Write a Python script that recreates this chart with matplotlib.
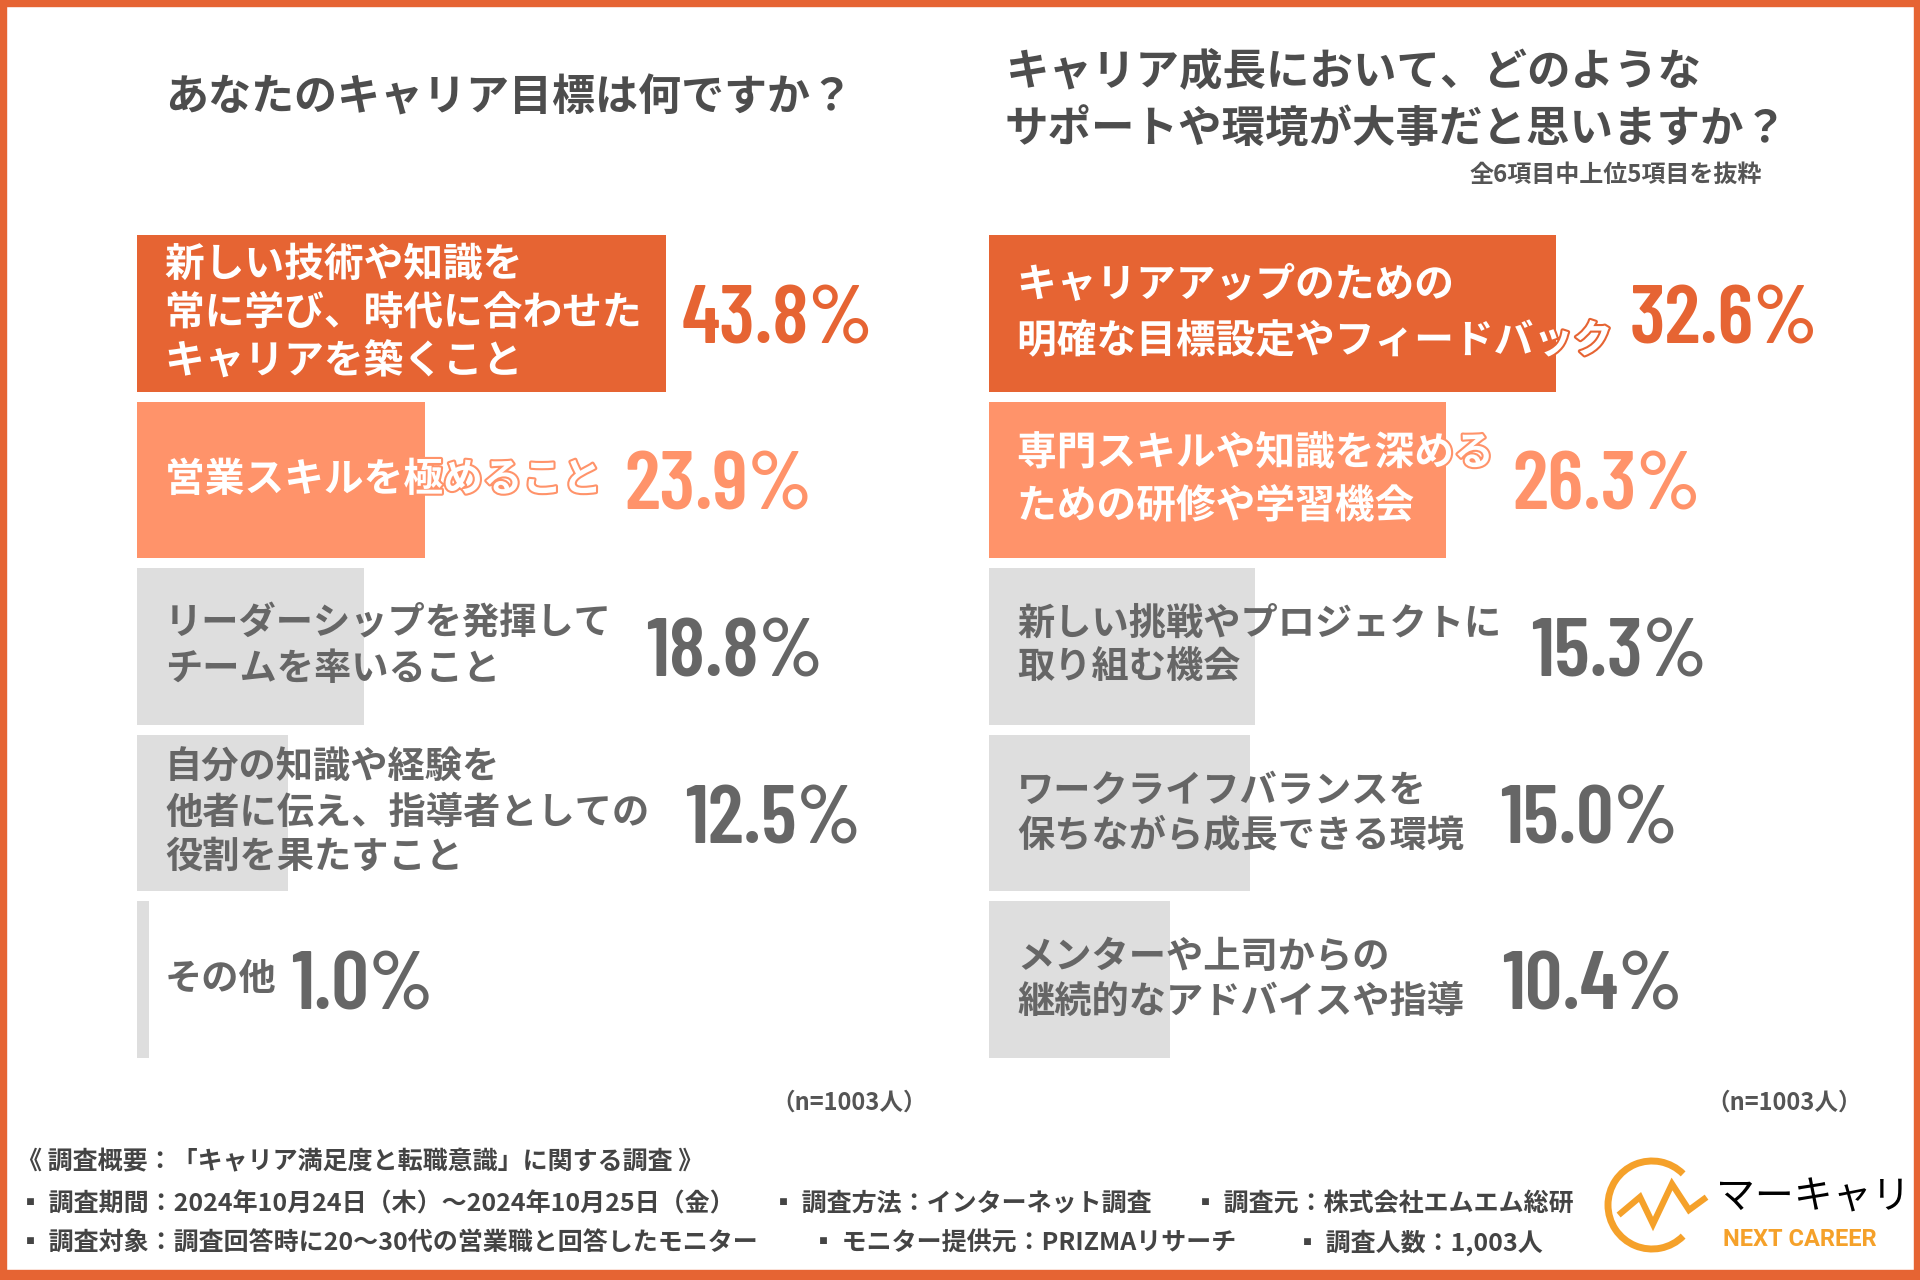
"""キャリア目標 / キャリア成長に必要なサポート: 横棒グラフ 2 枚 + 調査概要フッター."""

import matplotlib
matplotlib.use("Agg")
import matplotlib.pyplot as plt
import matplotlib.patheffects as pe
from matplotlib import font_manager as fm
from matplotlib.patches import Arc, Rectangle

# ---- data -------------------------------------------------------------
left_title = "あなたのキャリア目標は何ですか？"
left_labels = [
    "新しい技術や知識を\n常に学び、時代に合わせた\nキャリアを築くこと",
    "営業スキルを極めること",
    "リーダーシップを発揮して\nチームを率いること",
    "自分の知識や経験を\n他者に伝え、指導者としての\n役割を果たすこと",
    "その他",
]
left_values = [43.8, 23.9, 18.8, 12.5, 1.0]

right_title = ["キャリア成長において、どのような", "サポートや環境が大事だと思いますか？"]
right_note = "全6項目中上位5項目を抜粋"
right_labels = [
    "キャリアアップのための\n明確な目標設定やフィードバック",
    "専門スキルや知識を深める\nための研修や学習機会",
    "新しい挑戦やプロジェクトに\n取り組む機会",
    "ワークライフバランスを\n保ちながら成長できる環境",
    "メンターや上司からの\n継続的なアドバイスや指導",
]
right_values = [32.6, 26.3, 15.3, 15.0, 10.4]

n_note = "（n=1003人）"
footer_head = "《 調査概要：「キャリア満足度と転職意識」に関する調査 》"
footer_row1 = ["▪ 調査期間：2024年10月24日（木）～2024年10月25日（金）",
               "▪ 調査方法：インターネット調査",
               "▪ 調査元：株式会社エムエム総研"]
footer_row2 = ["▪ 調査対象：調査回答時に20～30代の営業職と回答したモニター",
               "▪ モニター提供元：PRIZMAリサーチ",
               "▪ 調査人数：1,003人"]

# ---- style ------------------------------------------------------------
ORANGE = "#E66433"
LIGHT = "#FF936A"
GRAY_BAR = "#DEDEDE"
GRAY_TXT = "#666666"
TITLE_C = "#4D4D4D"
LOGO_C = "#F5A12A"
bar_colors = [ORANGE, LIGHT, GRAY_BAR, GRAY_BAR, GRAY_BAR]
txt_colors = ["white", "white", GRAY_TXT, GRAY_TXT, GRAY_TXT]
val_colors = [ORANGE, LIGHT, GRAY_TXT, GRAY_TXT, GRAY_TXT]
lab_sizes = [28.6, 28.6, 26.8, 26.8, 26.8]

JP = ["Noto Sans CJK JP", "DejaVu Sans"]
plt.rcParams["font.family"] = JP

_names = {f.name for f in fm.fontManager.ttflist}
NUM_FONT = next((n for n in ["Barlow Condensed", "Roboto Condensed", "Archivo Narrow"]
                 if n in _names), "Roboto")

W, H = 1920, 1280
fig = plt.figure(figsize=(W / 100, H / 100), dpi=100)
fig.patch.set_facecolor("white")


def px_axes(left, top, width, height):
    return fig.add_axes([left / W, 1 - (top + height) / H, width / W, height / H])


def draw_panel(ax, labels, values, xmax, spacings, gaps):
    ys = range(len(values))
    ax.barh(ys, values, height=0.94, color=bar_colors, zorder=1)
    ax.set_xlim(0, xmax)
    ax.set_ylim(len(values) - 0.5, -0.5)
    ax.axis("off")
    lab_objs = []
    for i, (lab, tc, bc, fs, ls) in enumerate(zip(labels, txt_colors, bar_colors,
                                                  lab_sizes, spacings)):
        effects = [pe.withStroke(linewidth=3, foreground=bc)] if tc == "white" else None
        t = ax.annotate(lab, xy=(0, i), xytext=(28, 0), textcoords="offset pixels",
                        ha="left", va="center", fontsize=fs, fontweight="bold",
                        color=tc, linespacing=ls, path_effects=effects, zorder=3)
        lab_objs.append(t)
    fig.canvas.draw()
    r = fig.canvas.get_renderer()
    for i, (t, v, vc, g) in enumerate(zip(lab_objs, values, val_colors, gaps)):
        lab_right = t.get_window_extent(r).x1
        bar_right = ax.transData.transform((v, i))[0]
        x_px = max(lab_right, bar_right) + g
        x_data = ax.transData.inverted().transform((x_px, 0))[0]
        ax.annotate(f"{v:.1f}%", xy=(x_data, i), xytext=(0, -30),
                    textcoords="offset pixels", ha="left", va="baseline",
                    fontsize=60, fontweight="semibold", family=NUM_FONT,
                    color=vc, zorder=3)


ax_l = px_axes(137, 230, 724, 833)
draw_panel(ax_l, left_labels, left_values, 60,
           [1.23, 1.23, 1.31, 1.26, 1.26], [16, 22, 34, 36, 14])
ax_r = px_axes(989, 230, 869, 833)
draw_panel(ax_r, right_labels, right_values, 50,
           [1.47, 1.38, 1.25, 1.27, 1.27], [16, 18, 30, 36, 38])

# ---- titles -----------------------------------------------------------
fig.text(165 / W, 1 - 98 / H, left_title, fontsize=31, fontweight="bold",
         color=TITLE_C, ha="left", va="center")
fig.text(1005 / W, 1 - 71 / H, right_title[0], fontsize=31.3, fontweight="bold",
         color=TITLE_C, ha="left", va="center")
fig.text(1005 / W, 1 - 130 / H, right_title[1], fontsize=31.3, fontweight="bold",
         color=TITLE_C, ha="left", va="center")
fig.text(1762 / W, 1 - 175 / H, right_note, fontsize=17.3, fontweight="bold",
         color="#555555", ha="right", va="center")

fig.text(849 / W, 1 - 1103 / H, n_note, fontsize=17, fontweight="bold",
         color="#555555", ha="center", va="center")
fig.text(1784 / W, 1 - 1103 / H, n_note, fontsize=17, fontweight="bold",
         color="#555555", ha="center", va="center")

# ---- footer -----------------------------------------------------------
FOOT_C = "#444444"
FS = 18
fig.text(17 / W, 1 - 1162 / H, footer_head, fontsize=FS, fontweight="bold",
         color=FOOT_C, ha="left", va="center")
for txt, x in zip(footer_row1, [18, 771, 1193]):
    fig.text(x / W, 1 - 1204 / H, txt, fontsize=FS, fontweight="bold",
             color=FOOT_C, ha="left", va="center")
for txt, x in zip(footer_row2, [18, 811, 1295]):
    fig.text(x / W, 1 - 1243 / H, txt, fontsize=FS, fontweight="bold",
             color=FOOT_C, ha="left", va="center")

# ---- logo -------------------------------------------------------------
ax_logo = fig.add_axes([0, 0, 1, 1], zorder=-1)
ax_logo.set_xlim(0, W)
ax_logo.set_ylim(H, 0)
ax_logo.axis("off")
ax_logo.add_patch(Arc((1652, 1205), 88, 88, theta1=45, theta2=315, color=LOGO_C,
                      linewidth=5))
ax_logo.plot([1621, 1640, 1653, 1672, 1689, 1704], [1213, 1197, 1224, 1184, 1210, 1199],
             color=LOGO_C, linewidth=4.5, solid_joinstyle="miter")
fig.text(1716 / W, 1 - 1197 / H, "マーキャリ", fontsize=28, color="black",
         ha="left", va="center")
fig.text(1723 / W, 1 - 1240 / H, "NEXT CAREER", fontsize=17, fontweight="bold",
         family=["Roboto", "DejaVu Sans"], color=LOGO_C, ha="left", va="center")

# ---- frame ------------------------------------------------------------
for x, y, w, h in [(0, 0, W, 6), (0, 0, 6, H), (W - 6, 0, 6, H), (0, H - 10, W, 10)]:
    ax_logo.add_patch(Rectangle((x, y), w, h, color=ORANGE, zorder=5))

fig.savefig("out.png", dpi=100)
